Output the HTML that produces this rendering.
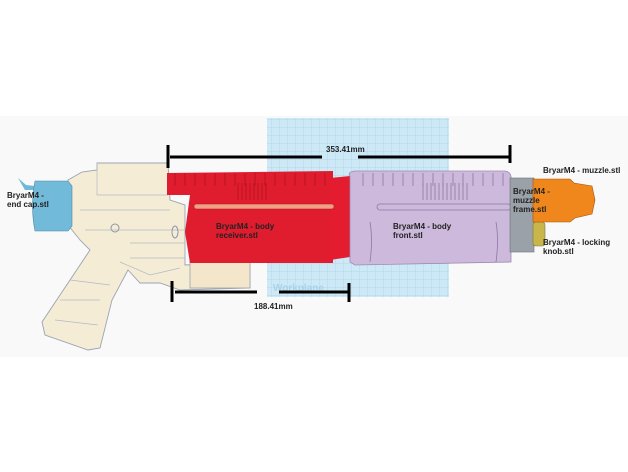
<!DOCTYPE html>
<html><head><meta charset="utf-8"><style>
html,body{margin:0;padding:0;background:#fff;width:628px;height:472px;overflow:hidden}
svg{display:block}
text{font-family:"Liberation Sans",sans-serif;font-weight:bold;font-size:8px;fill:#222}
</style></head><body>
<svg width="628" height="472" viewBox="0 0 628 472">
<defs>
<pattern id="g" width="8" height="8" patternUnits="userSpaceOnUse">
<rect width="8" height="8" fill="#cde9f6"/><path d="M8 0V8M0 8H8" stroke="#a9d3ea" stroke-width="0.7"/>
</pattern>
</defs>
<rect x="0" y="116" width="628" height="241" fill="#f9f9f9"/>
<rect x="267" y="118" width="182" height="179" fill="url(#g)"/>
<text x="273" y="291" style="fill:#a9d3ea;font-size:10px">Workplane</text>
<!-- transparent lower receiver -->
<path d="M68 180 L82 172 L97 170 L97 163 L168 163 L170 200 L185 205 L185 265 L250 262 L250 288 L180 290 L160 283 L140 283 L128 270 L112 300 L100 348 L88 350 L45 335 L42 322 L88 253 L90 250 L80 240 L68 225 Z" fill="#f5ecd6" stroke="#9aa3b2" stroke-width="0.9"/>
<path d="M97 163 L97 195 L168 195 M80 210 L170 210 M85 230 L185 230 M130 243 L185 243 M130 258 L185 258 M120 262 L150 275 L180 268 M60 300 L100 300 M70 280 L110 285 M55 320 L98 325" stroke="#b2b9c4" stroke-width="0.7" fill="none"/>
<ellipse cx="115" cy="228" rx="4" ry="4" fill="none" stroke="#8c96a8"/>
<ellipse cx="175" cy="232" rx="3" ry="6" fill="none" stroke="#8c96a8"/>
<rect x="190" y="258" width="60" height="30" fill="#f3e6ca" stroke="#9aa3b2" stroke-width="0.8"/>
<!-- end cap -->
<path d="M18 178 L26 185 L35 186 L35 190 L25 190 Z" fill="#6fb8d8"/>
<path d="M35 181 L68 181 L72 186 L72 226 L68 231 L35 231 Q30 206 35 181 Z" fill="#72bad9" stroke="#4d8aa6" stroke-width="0.6"/>
<!-- red receiver -->
<path d="M167 173 L333 171 L333 195 L167 195 Z" fill="#e01c2f"/>
<path d="M190 195 L333 195 L333 263 L190 263 L185 232 Z" fill="#e01c2f"/>
<path d="M330 178 L350 176 L350 257 L330 260 Z" fill="#e41c30"/>
<g stroke="#b0141f" stroke-width="0.8" fill="none">
<path d="M175 173V186M185 173V186M195 173V186M205 173V186M215 173V186M225 173V186M235 173V186M245 173V186M255 173V186M265 173V186M275 173V186M285 173V186M295 173V186M305 173V186M315 173V186M325 173V186"/>
<path d="M238 183V200M242 183V200M246 183V200M250 183V200M254 183V200M258 183V200M262 183V200M266 183V200"/>
</g>
<rect x="194" y="204" width="140" height="5" rx="2.5" fill="#f0a083" stroke="#b0141f" stroke-width="0.5"/>
<!-- lilac front -->
<path d="M350 176 Q347 172 355 171 L505 171 Q512 172 511 180 L511 262 L355 265 L350 262 Z" fill="#cdb9dc" stroke="#9d8bb0" stroke-width="0.8"/>
<g stroke="#8a7aa0" stroke-width="0.8" fill="none">
<path d="M363 173V186M373 173V186M383 173V186M393 173V186M403 173V186M413 173V186M423 173V186M433 173V186M443 173V186M453 173V186M463 173V186M473 173V186M483 173V186M493 173V186M503 173V186"/>
<path d="M423 183V200M427 183V200M431 183V200M435 183V200M439 183V200M443 183V200M447 183V200M451 183V200M455 183V200M459 183V200M463 183V200M467 183V200"/>
<path d="M370 222 Q373 240 370 262M496 222 Q499 240 496 262"/>
</g>
<rect x="377" y="204" width="134" height="6" rx="3" fill="none" stroke="#8a7aa0" stroke-width="0.8"/>
<!-- frame, muzzle, knob -->
<rect x="510" y="178" width="24" height="74" fill="#9ba1a8" stroke="#6b7178" stroke-width="0.6"/>
<rect x="533" y="222" width="12" height="24" rx="3" fill="#c8b64a" stroke="#7b7a40" stroke-width="0.6"/>
<path d="M533 179 L570 179 L574 183 L592 186 L595 200 L592 214 L575 218 L570 222 L533 222 Z" fill="#f0871c" stroke="#a4560c" stroke-width="0.6"/>
<!-- dimension lines -->
<g stroke="#000" stroke-width="3" fill="none">
<path d="M168 145V168M510 145V163M172 281V302M349 283V302"/>
<path d="M170 157H322M358 157H510M175 292H257M279 292H349"/>
</g>
<text x="326" y="152">353.41mm</text>
<text x="254" y="309">188.41mm</text>
<text x="7" y="198">BryarM4 -</text><text x="7" y="207">end cap.stl</text>
<text x="216" y="229">BryarM4 - body</text><text x="216" y="238">receiver.stl</text>
<text x="393" y="229">BryarM4 - body</text><text x="393" y="238">front.stl</text>
<text x="543" y="173">BryarM4 - muzzle.stl</text>
<text x="513" y="194">BryarM4 -</text><text x="513" y="203">muzzle</text><text x="513" y="212">frame.stl</text>
<text x="543" y="245">BryarM4 - locking</text><text x="543" y="254">knob.stl</text>
</svg>
</body></html>
